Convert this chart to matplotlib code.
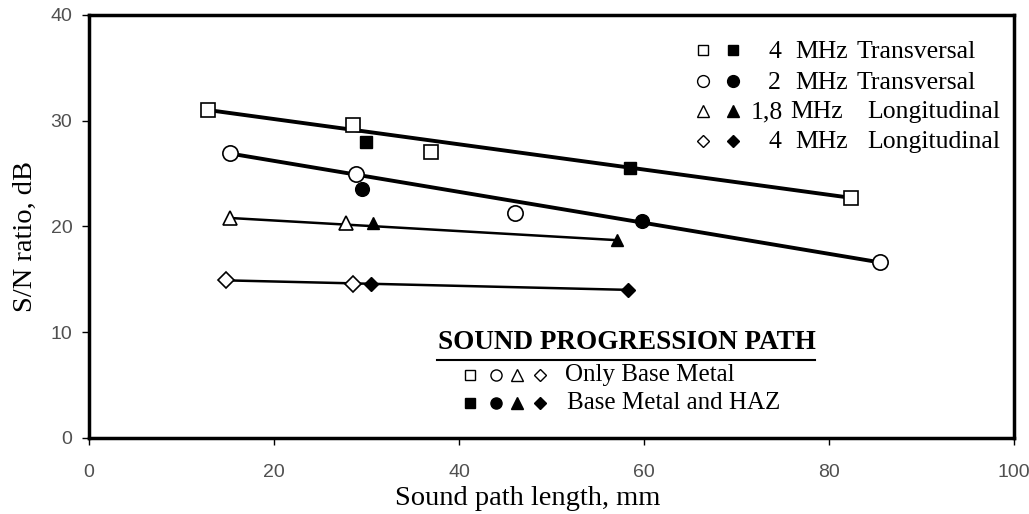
import numpy as np
import matplotlib.pyplot as plt

# 4 MHz Transversal
t4_open_x = [12.9, 28.5, 37.0, 82.4]
t4_open_y = [31.0, 29.6, 27.0, 22.7]
t4_fill_x = [29.9, 58.5]
t4_fill_y = [28.0, 25.5]

# 2 MHz Transversal
t2_open_x = [15.2, 28.9, 46.1, 85.5]
t2_open_y = [26.9, 25.0, 21.3, 16.6]
t2_fill_x = [29.5, 59.8]
t2_fill_y = [23.5, 20.5]

# 1,8 MHz Longitudinal
l18_open_x = [15.2, 27.8]
l18_open_y = [20.8, 20.3]
l18_fill_x = [30.7, 57.1]
l18_fill_y = [20.3, 18.7]

# 4 MHz Longitudinal
l4_open_x = [14.8, 28.5]
l4_open_y = [14.9, 14.6]
l4_fill_x = [30.5, 58.3]
l4_fill_y = [14.6, 14.0]

serif = 'Liberation Serif'

fig = plt.figure(figsize=(10.29, 5.14), dpi=100)
ax = fig.add_axes([0.0865, 0.148, 0.899, 0.823])

series = [
    (t4_open_x, t4_open_y, t4_fill_x, t4_fill_y, 's', 9.5, 2.8),
    (t2_open_x, t2_open_y, t2_fill_x, t2_fill_y, 'o', 11, 2.8),
    (l18_open_x, l18_open_y, l18_fill_x, l18_fill_y, '^', 10, 1.8),
    (l4_open_x, l4_open_y, l4_fill_x, l4_fill_y, 'D', 8, 1.8),
]

for ox, oy, fx, fy, mk, ms, lw in series:
    xs = np.array(ox + fx)
    ys = np.array(oy + fy)
    # straight line from the first to the last measured point
    i0, i1 = xs.argmin(), xs.argmax()
    ax.plot([xs[i0], xs[i1]], [ys[i0], ys[i1]], color='black', lw=lw, zorder=2)
    ax.plot(ox, oy, mk, ms=ms, mfc='white', mec='black', mew=1.2, ls='none', zorder=3)
    ax.plot(fx, fy, mk, ms=ms * 0.9, mfc='black', mec='black', ls='none', zorder=3)

ax.set_xlim(0, 100)
ax.set_ylim(0, 40)
ax.set_xticks([0, 20, 40, 60, 80, 100])
ax.set_yticks([0, 10, 20, 30, 40])
for s in ax.spines.values():
    s.set_linewidth(2.5)
ax.tick_params(direction='out', length=5, width=1, labelsize=14,
               labelcolor='#505050')
ax.tick_params(axis='x', pad=14)
ax.tick_params(axis='y', pad=7)
for lab in ax.get_xticklabels() + ax.get_yticklabels():
    lab.set_family('Liberation Sans')

fig.text(0.513, 0.0175, 'Sound path length, mm', family=serif, fontsize=20.5,
         ha='center', va='baseline')
fig.text(0.0243, 0.539, 'S/N ratio, dB', family=serif, fontsize=20.5,
         ha='center', va='center', rotation=90)

# legend for frequencies / wave types
row_y = [0.912, 0.839, 0.770, 0.699]
leg_sym = [('s', 7), ('o', 8.5), ('^', 8), ('D', 6)]
leg_num = [('4', 0.734), ('2', 0.734), ('1,8', 0.715), ('4', 0.734)]
leg_mhz = [0.763, 0.763, 0.758, 0.763]
leg_type = [('Transversal', 0.830), ('Transversal', 0.830),
            ('Longitudinal', 0.841), ('Longitudinal', 0.841)]
for (mk, ms), (num, nx), mx, (typ, tx), yy in zip(leg_sym, leg_num, leg_mhz,
                                                   leg_type, row_y):
    ax.plot([0.664], [yy + 0.004], mk, ms=ms, mfc='white', mec='black', mew=1,
            transform=ax.transAxes, clip_on=False)
    ax.plot([0.696], [yy + 0.004], mk, ms=ms, mfc='black', mec='black',
            transform=ax.transAxes, clip_on=False)
    for t, x in [(num, nx), ('MHz', mx), (typ, tx)]:
        ax.text(x, yy, t, transform=ax.transAxes, family=serif, fontsize=18.5,
                va='center', ha='left')

# sound progression path box
ax.text(0.377, 0.2246, 'SOUND PROGRESSION PATH', transform=ax.transAxes,
        family=serif, fontsize=19.5, fontweight='bold', va='center', ha='left')
ax.plot([0.376, 0.785], [0.184, 0.184], color='black', lw=1.5,
        transform=ax.transAxes)
sym_x = [0.412, 0.440, 0.463, 0.488]
sym = [('s', 7.5), ('o', 8), ('^', 8), ('D', 6)]
for (mk, ms), sx in zip(sym, sym_x):
    ax.plot([sx], [0.149], mk, ms=ms, mfc='white', mec='black', mew=1,
            transform=ax.transAxes)
    ax.plot([sx], [0.083], mk, ms=ms, mfc='black', mec='black',
            transform=ax.transAxes)
ax.text(0.515, 0.149, 'Only Base Metal', transform=ax.transAxes, family=serif,
        fontsize=18, va='center', ha='left')
ax.text(0.517, 0.083, 'Base Metal and HAZ', transform=ax.transAxes, family=serif,
        fontsize=18, va='center', ha='left')

fig.savefig('out.png', dpi=100)
